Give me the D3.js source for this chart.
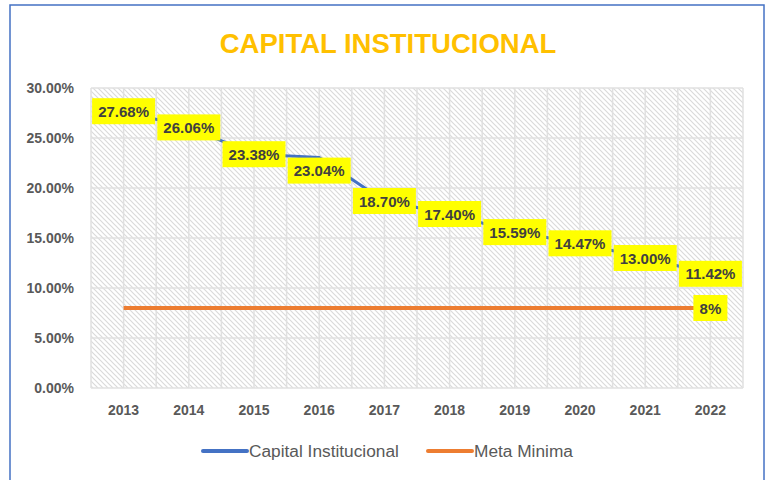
<!DOCTYPE html>
<html>
<head>
<meta charset="utf-8">
<script src="https://cdn.jsdelivr.net/npm/d3@7"></script>
<style>
	body { margin: 0; background: #fff; }
	text { font-family: "Liberation Sans", Arial, sans-serif; }
</style>
</head>
<body>
<svg id="chart" width="767" height="480"></svg>
<script>
/* chart data */
var years = ['2013', '2014', '2015', '2016', '2017', '2018', '2019', '2020', '2021', '2022']
var capital = [27.68, 26.06, 23.38, 23.04, 18.70, 17.40, 15.59, 14.47, 13.00, 11.42]
var metaMinima = [8, 8, 8, 8, 8, 8, 8, 8, 8, 8]
var yTicks = [0, 5, 10, 15, 20, 25, 30]

var svg = d3.select('#chart')
var plot = { left: 91, right: 743, top: 88, bottom: 388 }

var x = d3.scaleBand().domain(years).range([plot.left, plot.right])
var y = d3.scaleLinear().domain([0, 30]).range([plot.bottom, plot.top])
var cx = function(year) { return x(year) + x.bandwidth() / 2 }

/* outer chart border */
svg.append('rect')
	.attr('x', 10).attr('y', 5).attr('width', 754).attr('height', 490)
	.attr('fill', '#fff').attr('stroke', '#4472C4').attr('stroke-width', 1.5)

/* diagonal hatch for the plot area */
var pattern = svg.append('defs').append('pattern')
	.attr('id', 'hatch').attr('patternUnits', 'userSpaceOnUse')
	.attr('width', 5).attr('height', 5)
pattern.append('path')
	.attr('d', 'M-1,-1 L6,6 M-1,4 L1,6 M4,-1 L6,1')
	.attr('stroke', '#dadada').attr('stroke-width', 1.2)

svg.append('rect')
	.attr('x', plot.left).attr('y', plot.top)
	.attr('width', plot.right - plot.left).attr('height', plot.bottom - plot.top)
	.attr('fill', 'url(#hatch)')

/* gridlines: horizontal at each tick, vertical at every half category */
var grid = svg.append('g').attr('stroke', '#e0e0e0').attr('stroke-width', 1.5)
grid.selectAll('line.h').data(yTicks).enter().append('line')
	.attr('class', 'h')
	.attr('x1', plot.left).attr('x2', plot.right)
	.attr('y1', function(d) { return y(d) }).attr('y2', function(d) { return y(d) })
var halfSteps = d3.range(0, years.length * 2 + 1)
grid.selectAll('line.v').data(halfSteps).enter().append('line')
	.attr('class', 'v')
	.attr('y1', plot.top).attr('y2', plot.bottom)
	.attr('x1', function(d) { return plot.left + d * x.bandwidth() / 2 })
	.attr('x2', function(d) { return plot.left + d * x.bandwidth() / 2 })

/* title */
svg.append('text')
	.attr('x', 388).attr('y', 53)
	.attr('text-anchor', 'middle')
	.attr('font-size', 27.5).attr('font-weight', 'bold')
	.attr('fill', '#FFC000')
	.text('CAPITAL INSTITUCIONAL')

/* y axis labels */
svg.append('g').selectAll('text').data(yTicks).enter().append('text')
	.attr('x', 74).attr('y', function(d) { return y(d) + 5 })
	.attr('text-anchor', 'end')
	.attr('font-size', 14).attr('font-weight', 'bold').attr('fill', '#595959')
	.text(function(d) { return d3.format('.2f')(d) + '%' })

/* x axis labels */
svg.append('g').selectAll('text').data(years).enter().append('text')
	.attr('x', cx).attr('y', 415)
	.attr('text-anchor', 'middle')
	.attr('font-size', 14).attr('font-weight', 'bold').attr('fill', '#595959')
	.text(function(d) { return d })

/* series lines */
var line = d3.line()
	.x(function(d, i) { return cx(years[i]) })
	.y(function(d) { return y(d) })

svg.append('path').datum(metaMinima)
	.attr('d', line).attr('fill', 'none')
	.attr('stroke', '#ED7D31').attr('stroke-width', 4)

svg.append('path').datum(capital)
	.attr('d', line).attr('fill', 'none')
	.attr('stroke', '#4472C4').attr('stroke-width', 3).attr('stroke-linejoin', 'round')

/* data labels - yellow boxes centred on the points (only the indexes given) */
function drawLabels(values, indexes, fmt, boxWidth, dyFor) {
	var g = svg.append('g').selectAll('g').data(indexes).enter().append('g')
		.attr('transform', function(i) {
			return 'translate(' + cx(years[i]) + ',' + (y(values[i]) + dyFor(i)) + ')'
		})
	g.append('rect')
		.attr('x', -boxWidth / 2).attr('y', -13)
		.attr('width', boxWidth).attr('height', 26)
		.attr('fill', '#FFFF00')
	g.append('text')
		.attr('text-anchor', 'middle').attr('y', 5.5)
		.attr('font-size', 15).attr('font-weight', 'bold').attr('fill', '#404040')
		.text(function(i) { return fmt(values[i]) })
}

/* the 2016 label sits below its point, the rest are centred */
drawLabels(capital, d3.range(capital.length), function(d) { return d3.format('.2f')(d) + '%' }, 63,
	function(i) { return i === 3 ? 13 : 0 })
/* Meta Minima only labels its last point */
drawLabels(metaMinima, [metaMinima.length - 1], function(d) { return d + '%' }, 34,
	function() { return 0 })

/* legend */
var legendItems = [
	{ name: 'Capital Institucional', color: '#4472C4', x: 203 },
	{ name: 'Meta Minima', color: '#ED7D31', x: 428 }
]
var legend = svg.append('g').selectAll('g').data(legendItems).enter().append('g')
	.attr('transform', function(d) { return 'translate(' + d.x + ',451)' })
legend.append('line')
	.attr('x1', 0).attr('x2', 44)
	.attr('stroke', function(d) { return d.color }).attr('stroke-width', 4)
	.attr('stroke-linecap', 'round')
legend.append('text')
	.attr('x', 46).attr('y', 6)
	.attr('font-size', 17.3).attr('fill', '#595959')
	.text(function(d) { return d.name })
</script>
</body>
</html>
